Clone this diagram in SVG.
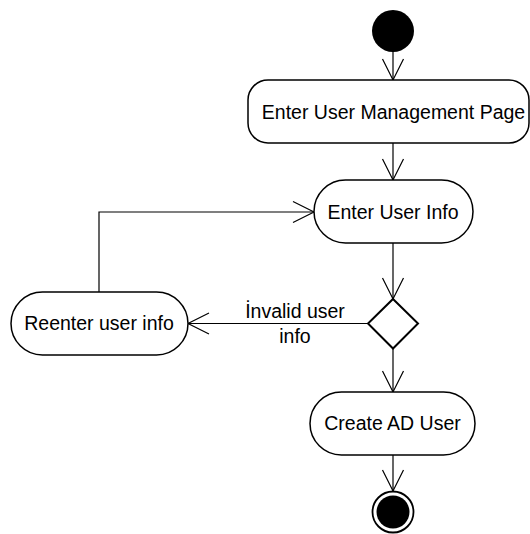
<svg xmlns="http://www.w3.org/2000/svg" width="530" height="534" viewBox="0 0 530 534">
<style>
.box{fill:#fff;stroke:#000;stroke-width:1.5}
.lbl{font-family:"Liberation Sans",Arial,sans-serif;font-size:19.5px;fill:#000;text-anchor:middle}
.edge{fill:none;stroke:#000;stroke-width:1.2;marker-end:url(#arr)}
</style>
<defs>
<marker id="arr" markerUnits="userSpaceOnUse" markerWidth="30" markerHeight="30" refX="0" refY="0" orient="auto" overflow="visible">
<path d="M -21 -10.5 L 0 0 L -21 10.5" fill="none" stroke="#000" stroke-width="1.2"/>
</marker>
</defs>
<rect width="530" height="534" fill="#fff"/>
<g id="connectors">
<path class="edge" d="M 393 52 L 393 80"/>
<path class="edge" d="M 393 143 L 393 180"/>
<path class="edge" d="M 393 243 L 393 299"/>
<path class="edge" d="M 368 323.5 L 188 323.5"/>
<path class="edge" d="M 99 292 L 99 212 L 314 212"/>
<path class="edge" d="M 393 348.5 L 393 392"/>
<path class="edge" d="M 393 455 L 393 491"/>
<text class="lbl" x="295" y="318">İnvalid user</text>
<text class="lbl" x="295" y="342.5">info</text>
</g>
<g id="start">
<circle cx="393" cy="31" r="21" fill="#000"/>
</g>
<g id="enter-mgmt">
<rect class="box" x="248" y="80" width="281" height="63" rx="20" ry="20"/>
<text class="lbl" x="393.5" y="119">Enter User Management Page</text>
</g>
<g id="enter-info">
<rect class="box" x="314" y="180" width="159" height="63" rx="31.5" ry="31.5"/>
<text class="lbl" x="393" y="218.5">Enter User Info</text>
</g>
<g id="decision">
<polygon points="393,299 418,323.5 393,348.5 368,323.5" fill="#fff" stroke="#000" stroke-width="2"/>
</g>
<g id="reenter">
<rect class="box" x="11" y="292" width="177" height="63" rx="31.5" ry="31.5"/>
<text class="lbl" x="99" y="330">Reenter user info</text>
</g>
<g id="create">
<rect class="box" x="310" y="392" width="165" height="63" rx="31.5" ry="31.5"/>
<text class="lbl" x="392.5" y="430">Create AD User</text>
</g>
<g id="end">
<circle cx="393" cy="512" r="20.5" fill="#fff" stroke="#000" stroke-width="1.8"/>
<circle cx="393" cy="512" r="16.5" fill="#000"/>
</g>
</svg>
